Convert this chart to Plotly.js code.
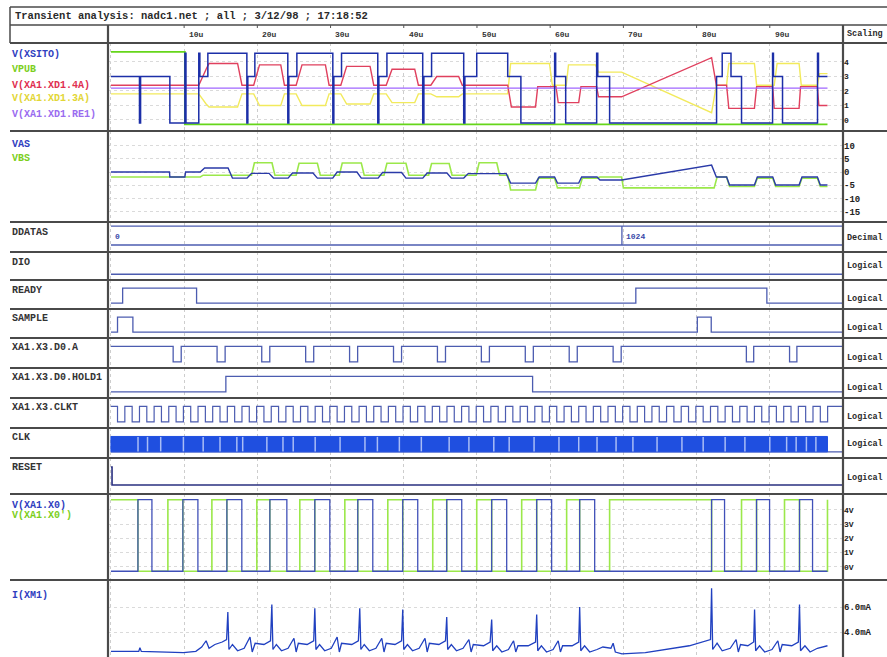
<!DOCTYPE html>
<html><head><meta charset="utf-8">
<script src="https://cdn.plot.ly/plotly-3.0.1.min.js"></script>
<style>html,body{margin:0;padding:0;background:#fff}#chart{width:887px;height:657px}</style>
</head><body><div id="chart"></div>
<script>
// ---------------- DATA (times in microseconds) ----------------
const tickT = [10,20,30,40,50,60,70,80,90];
const tickLabels = ['10u','20u','30u','40u','50u','60u','70u','80u','90u'];

// Panel 1
const xsitoT = [0,3.9,4.05,8.05,10.1,10.25,12.0,12.15,13.24,18.57,18.7,19.66,24.16,24.3,25.4,30.31,30.45,31.5,36.45,36.6,37.7,42.59,42.75,43.8,48.19,48.35,49.97,54.2,56.0,60.61,60.75,62.12,66.35,66.5,68.12,82.73,83.5,84.7,86.14,90.38,90.5,91.74,96.52,96.65,97.88];
const xsitoV = [3.0,-0.2,3.0,-0.2,4.6,-0.2,4.6,3.0,4.6,-0.2,3.0,4.6,-0.2,3.0,4.6,-0.2,3.0,4.6,-0.2,3.0,4.6,-0.2,3.0,4.6,-0.2,3.0,4.6,3.0,-0.2,4.6,3.0,-0.2,4.6,3.0,-0.2,3.0,4.6,3.0,-0.2,4.6,3.0,-0.2,4.6,3.0,3.0];
const vpubT = [0,10.1,97.88];
const vpubV = [4.7,-0.3,-0.3];
const xd4aT = [0,12.0,13.0,13.4,17.3,17.9,19.5,20.3,23.2,23.7,25.3,26.1,29.3,29.8,31.4,32.2,35.4,35.9,37.6,38.4,41.5,42.0,43.7,44.5,47.5,48.0,54.2,54.7,58.0,58.3,60.8,61.1,63.9,64.2,66.35,66.6,69.76,82.05,82.7,84.1,84.4,87.9,88.2,90.4,90.6,94.0,94.2,96.5,96.7,97.88];
const xd4aV = [2.4,2.4,3.5,3.9,3.9,2.4,2.4,3.8,3.8,2.4,2.4,3.8,3.8,2.4,2.4,3.7,3.7,2.4,2.4,3.5,3.5,2.4,2.4,3.0,3.0,2.4,2.4,0.9,0.9,2.3,2.3,1.2,1.2,2.3,2.3,1.6,1.6,4.3,2.4,2.4,0.8,0.8,2.3,2.3,0.8,0.8,2.3,2.3,1.0,1.0];
const xd3aT = [0,12.0,13.0,13.4,17.3,17.9,19.5,20.3,23.2,23.7,25.3,26.1,29.3,29.8,31.4,32.2,35.4,35.9,37.6,38.4,41.5,42.0,43.7,44.5,47.5,48.0,54.2,54.6,59.9,60.3,62.2,62.5,66.2,66.6,69.76,82.05,82.7,84.1,84.4,87.9,88.2,90.6,91.0,94.0,94.3,96.5,96.8,97.88];
const xd3aV = [1.8,1.8,1.1,0.9,0.9,1.8,1.8,1.0,1.0,1.8,1.8,1.0,1.0,1.8,1.8,1.1,1.1,1.8,1.8,1.2,1.2,1.8,1.8,1.6,1.6,1.8,1.8,3.9,3.9,2.4,2.4,3.8,3.8,3.3,3.3,0.5,2.4,2.4,3.9,3.9,2.4,2.4,3.9,3.9,2.4,2.4,3.2,3.2];
const re1T = [0,97.88];
const re1V = [2.2,2.2];

// Panel 2
const vasT = [0,8.0,8.05,10.1,10.2,12.2,12.8,16.0,16.6,18.6,19.2,21.6,22.2,24.2,24.8,27.6,28.2,30.3,30.9,33.6,34.2,36.5,37.1,39.7,40.3,42.6,43.2,45.9,46.5,48.2,48.8,54.0,54.6,58.0,58.5,60.6,61.0,63.9,64.3,66.4,66.8,69.76,82.05,82.7,84.1,84.5,87.9,88.3,90.4,90.8,94.0,94.4,96.5,96.9,97.88];
const vasV = [0,0,-1.9,-1.9,0,0,1.5,1.5,-2.3,-2.3,-0.5,-0.5,-2.3,-2.3,-0.4,-0.4,-2.3,-2.3,0.0,0.0,-2.3,-2.3,-0.2,-0.2,-2.3,-2.3,-0.4,-0.4,-2.3,-2.3,-0.6,-0.6,-4.2,-4.2,-1.9,-1.9,-4.2,-4.2,-1.9,-1.9,-3.0,-3.0,2.6,-1.9,-1.9,-4.9,-4.9,-1.9,-1.9,-4.9,-4.9,-1.9,-1.9,-4.9,-4.9];
const vbsT = [0,12.2,12.6,19.2,19.6,22.0,22.4,25.3,25.7,28.2,28.6,31.2,31.6,34.2,34.6,37.3,37.7,40.3,40.7,43.4,43.8,46.2,46.6,49.9,50.3,52.7,53.1,54.2,54.6,58.0,58.4,60.6,61.0,64.0,64.4,66.4,66.8,69.76,70.0,82.4,82.8,84.1,84.5,87.9,88.3,90.4,90.8,94.0,94.4,96.5,96.9,97.88];
const vbsV = [-1.9,-1.9,-1.2,-1.2,3.5,3.5,-1.2,-1.2,3.3,3.3,-1.2,-1.2,3.4,3.4,-1.2,-1.2,3.3,3.3,-1.2,-1.2,3.2,3.2,-1.2,-1.2,3.5,3.5,-1.2,-1.2,-6.8,-6.8,-2.3,-2.3,-6.0,-6.0,-2.3,-2.3,-1.9,-1.9,-6.0,-6.0,-1.9,-1.9,-5.5,-5.5,-2.3,-2.3,-5.5,-5.5,-2.3,-2.3,-5.5,-5.5];

// Digital
const ddataT = [0,69.8,100];
const ddataVals = ['0','1024'];
const dioT = [0,100];
const dioV = [0,0];
const readyT = [0,1.6,11.7,71.7,89.6,100];
const readyV = [0,1,0,1,0,0];
const sampleT = [0,0.9,3.0,80.1,82.0,100];
const sampleV = [0,1,0,1,0,0];
const d0aT = [0,8.5,9.6,14.5,15.6,20.6,21.7,26.6,27.7,32.6,33.7,38.6,39.7,44.6,45.7,50.6,51.7,56.6,57.7,62.6,63.7,68.6,69.7,86.8,87.8,92.7,93.7,100];
const d0aV = [1,0,1,0,1,0,1,0,1,0,1,0,1,0,1,0,1,0,1,0,1,0,1,0,1,0,1,1];
const holdT = [0,15.7,57.6,100];
const holdV = [0,1,0,0];
const clktT = [0,0.9,1.9,2.9,3.9,4.9,5.9,6.9,7.9,8.9,9.9,10.9,11.9,12.9,13.9,14.9,15.9,16.9,17.9,18.9,19.9,20.9,21.9,22.9,23.9,24.9,25.9,26.9,27.9,28.9,29.9,30.9,31.9,32.9,33.9,34.9,35.9,36.9,37.9,38.9,39.9,40.9,41.9,42.9,43.9,44.9,45.9,46.9,47.9,48.9,49.9,50.9,51.9,52.9,53.9,54.9,55.9,56.9,57.9,58.9,59.9,60.9,61.9,62.9,63.9,64.9,65.9,66.9,67.9,68.9,69.9,70.9,71.9,72.9,73.9,74.9,75.9,76.9,77.9,78.9,79.9,80.9,81.9,82.9,83.9,84.9,85.9,86.9,87.9,88.9,89.9,90.9,91.9,92.9,93.9,94.9,95.9,96.9,97.9,100];
const clktV = [1,0,1,0,1,0,1,0,1,0,1,0,1,0,1,0,1,0,1,0,1,0,1,0,1,0,1,0,1,0,1,0,1,0,1,0,1,0,1,0,1,0,1,0,1,0,1,0,1,0,1,0,1,0,1,0,1,0,1,0,1,0,1,0,1,0,1,0,1,0,1,0,1,0,1,0,1,0,1,0,1,0,1,0,1,0,1,0,1,0,1,0,1,0,1,0,1,0,1,1];
const clkSpan = [0,97.88];
const clkGaps = [3.7,5.0,6.8,9.9,12.6,14.9,17.2,18.0,21.3,23.5,24.9,27.9,31.3,34.7,36.4,39.4,42.4,46.2,48.9,52.3,54.4,57.8,61.2,63.9,66.4,69.0,71.3,74.6,78.0,80.9,83.9,86.6,90.0,92.3,93.6,95.0,96.3];
const resetT = [0,0.15,100];
const resetV = [1,0,0];

// V(XA1.X0) panel
const x0T = [0,3.69,5.6,9.83,11.88,15.84,17.88,21.71,24.03,27.85,29.9,33.72,35.77,39.86,41.91,45.87,47.92,52.01,54.06,58.16,60.2,64.03,66.08,82.05,83.82,88.19,89.97,94.06,95.84,97.88];
const x0V = [-0.3,4.7,-0.3,4.7,-0.3,4.7,-0.3,4.7,-0.3,4.7,-0.3,4.7,-0.3,4.7,-0.3,4.7,-0.3,4.7,-0.3,4.7,-0.3,4.7,-0.3,4.7,-0.3,4.7,-0.3,4.7,-0.3,-0.3];
const x0bT = [0,3.69,7.78,9.83,13.79,15.84,19.93,21.71,25.8,27.85,31.95,33.72,37.82,39.86,43.96,45.87,49.97,52.01,56.11,58.16,62.25,64.03,68.12,82.05,86.14,88.19,92.01,94.06,97.88];
const x0bV = [4.7,-0.3,4.7,-0.3,4.7,-0.3,4.7,-0.3,4.7,-0.3,4.7,-0.3,4.7,-0.3,4.7,-0.3,4.7,-0.3,4.7,-0.3,4.7,-0.3,4.7,-0.3,4.7,-0.3,4.7,-0.3,4.7];

// I(XM1) panel (mA)
const ixmT = [0,3.8,3.96,4.15,9.9,11.6,12.4,13.0,13.4,14.2,15.2,15.8,15.97,16.12,16.6,17.3,18.2,19.0,19.3,19.7,20.9,21.8,21.98,22.13,22.6,23.3,24.2,25.0,25.3,25.6,26.8,27.7,27.85,28.0,28.5,29.2,30.1,30.9,31.2,31.5,32.9,33.8,33.99,34.14,34.6,35.3,36.2,37.0,37.3,37.6,38.8,39.7,39.86,40.0,40.5,41.2,42.1,42.9,43.2,43.5,44.8,45.7,45.87,46.0,46.5,47.2,48.1,48.9,49.2,49.5,50.9,51.8,52.01,52.15,52.7,53.4,54.3,55.0,55.3,55.6,57.0,58.0,58.16,58.3,58.8,59.5,60.4,61.1,61.4,61.7,63.0,63.9,64.03,64.18,64.7,65.4,66.4,67.2,68.3,68.6,68.9,69.8,73.0,76.0,79.0,81.9,82.05,82.2,82.8,83.5,84.6,85.4,85.7,86.0,87.0,87.8,87.92,88.07,88.6,89.3,90.3,91.1,91.4,91.7,93.0,93.9,94.06,94.2,94.8,95.5,96.5,97.88];
const ixmV = [2.45,2.45,2.75,2.45,2.35,2.45,2.8,3.3,2.7,3.0,3.2,3.4,5.6,2.6,3.0,2.5,2.7,3.6,2.4,3.1,3.0,3.3,6.2,2.6,3.0,2.5,2.7,3.5,2.4,3.1,3.0,3.3,5.9,2.6,3.0,2.5,2.7,3.6,2.4,3.1,3.0,3.3,5.9,2.6,3.0,2.5,2.7,3.5,2.4,3.1,3.0,3.3,5.8,2.6,3.0,2.5,2.7,3.5,2.4,3.1,3.0,3.3,5.2,2.6,3.0,2.5,2.7,3.4,2.4,3.0,2.9,3.2,5.0,2.5,2.9,2.4,2.6,3.3,2.4,2.9,2.9,3.2,5.4,2.5,2.9,2.4,2.6,3.3,2.4,2.9,2.9,3.2,6.0,2.5,2.9,2.4,2.6,2.8,2.7,3.1,2.4,2.25,2.35,2.6,2.9,3.4,7.5,2.6,3.1,2.5,2.7,3.4,2.4,3.0,2.9,3.2,5.8,2.5,2.9,2.4,2.6,3.3,2.4,3.0,2.9,3.2,6.2,2.5,2.9,2.4,2.7,2.9];

// ---------------- LAYOUT HELPERS ----------------
const W = 887, H = 657;
const px = x => x / W;
const py = y => 1 - y / H;
const MONO = 'Liberation Mono, DejaVu Sans Mono, monospace';

const rows = [
  {top:43,  bot:131, range:[-0.76,5.31]},
  {top:131, bot:222, range:[-18.9,15.5]},
  {top:223, bot:252, range:[-0.37,1.16]},
  {top:252, bot:280, range:[-0.4,1.55]},
  {top:280, bot:309, range:[-0.4,1.55]},
  {top:309, bot:338, range:[-0.4,1.55]},
  {top:338, bot:368, range:[-0.4,1.55]},
  {top:368, bot:398, range:[-0.4,1.55]},
  {top:398, bot:428, range:[-0.4,1.55]},
  {top:428, bot:458, range:[-0.4,1.55]},
  {top:458, bot:494, range:[-0.5,1.5]},
  {top:494, bot:580, range:[-0.91,5.1]},
  {top:580, bot:657, range:[2.0,8.16]}
];
const scaleTicks = {
  0: {vals:[0,1,2,3,4], text:['0','1','2','3','4'], size:8},
  1: {vals:[10,5,0,-5,-10,-15], text:['10','5','0','-5','-10','-15'], size:9},
  11:{vals:[0,1,2,3,4], text:['0V','1V','2V','3V','4V'], size:8},
  12:{vals:[4,6], text:['4.0mA','6.0mA'], size:9}
};

const layout = {
  width: W, height: H,
  margin: {l:0, r:0, t:0, b:0},
  paper_bgcolor: '#ffffff',
  plot_bgcolor: '#ffffff',
  showlegend: false,
  hovermode: false,
  xaxis: {domain:[px(108), px(843)], range:[-0.4,100], showgrid:true, dtick:10, tick0:0,
          gridcolor:'#cdcdcd', griddash:'dot', gridwidth:1, showticklabels:false,
          ticks:'', zeroline:false, showline:false, anchor:'y', fixedrange:true},
  shapes: [], annotations: []
};
rows.forEach((r, i) => {
  const name = i === 0 ? 'yaxis' : 'yaxis' + (i + 1);
  const ax = {domain:[py(r.bot), py(r.top)], range:r.range, anchor:'x', zeroline:false,
              showline:false, ticks:'', showgrid:false, showticklabels:false, fixedrange:true};
  const st = scaleTicks[i];
  if (st) {
    Object.assign(ax, {side:'right', showticklabels:true, tickmode:'array', tickvals:st.vals,
      ticktext:st.text, tickfont:{family:MONO, size:st.size, color:'#222', weight:'bold'},
      showgrid:true, gridcolor:'#dadada', griddash:'dot', gridwidth:1});
  }
  layout[name] = ax;
});

const line = (x0,y0,x1,y1,w,c) => ({type:'line', xref:'paper', yref:'paper',
  x0:px(x0), y0:py(y0), x1:px(x1), y1:py(y1), line:{color:c||'#4a4a4a', width:w||2}});
layout.shapes.push(line(10,7,887,7,1.5));
layout.shapes.push(line(10,25,887,25,1.5));
layout.shapes.push(line(10,7,10,43,1.5));
[43,131,222,252,280,309,338,368,398,428,458,494,580].forEach(y => layout.shapes.push(line(10,y,887,y,2.2)));
layout.shapes.push(line(108,25,108,657,2.2));
layout.shapes.push(line(843,25,843,657,2.2));
tickT.forEach(t => layout.shapes.push({type:'line', xref:'x', yref:'paper', x0:t, x1:t,
  y0:py(25), y1:py(28), line:{color:'#555', width:1}}));

const ann = (x, y, text, color, size, anchor) => layout.annotations.push({
  xref:'paper', yref:'paper', x:px(x), y:py(y), text:text, showarrow:false,
  xanchor:anchor||'left', yanchor:'middle',
  font:{family:MONO, size:size||10, color:color||'#2a2a2a', weight:'bold'}});
ann(13, 16, 'Transient analysis: nadc1.net ; all ; 3/12/98 ; 17:18:52', '#2a2a2a', 10.5);
tickT.forEach((t, i) => layout.annotations.push({xref:'x', yref:'paper', x:t + 0.4, y:py(34),
  text:tickLabels[i], showarrow:false, xanchor:'left', yanchor:'middle',
  font:{family:MONO, size:8, color:'#333', weight:'bold'}}));
ann(845, 34, 'Scaling', '#2a2a2a', 8.5);

const COL = {blue:'#3040c0', green:'#7ccf1c', red:'#e03050', yellow:'#e2d636', violet:'#9a6cf0', gray:'#333333'};
ann(10, 55, 'V(XSITO)', COL.blue);
ann(10, 69, 'VPUB', COL.green);
ann(10, 85, 'V(XA1.XD1.4A)', COL.red);
ann(10, 99, 'V(XA1.XD1.3A)', COL.yellow);
ann(10, 114, 'V(XA1.XD1.RE1)', COL.violet);
ann(10, 144, 'VAS', COL.blue);
ann(10, 158, 'VBS', COL.green);
const digLabels = ['DDATAS','DIO','READY','SAMPLE','XA1.X3.D0.A','XA1.X3.D0.HOLD1','XA1.X3.CLKT','CLK','RESET'];
const digLabelY = [232,262,290,318,347,377,407,437,467];
digLabels.forEach((t, i) => ann(10, digLabelY[i], t, COL.gray));
const rightY = [238,266,299,328,358,388,417,444,478];
rightY.forEach((y, i) => ann(845, y, i === 0 ? 'Decimal' : 'Logical', '#2a2a2a', 8.5));
ann(10, 505, 'V(XA1.X0)', COL.blue);
ann(10, 515, "V(XA1.X0')", COL.green);
ann(10, 595, 'I(XM1)', COL.blue);

// ---------------- TRACES ----------------
const traces = [];
const tr = (x, y, yaxis, color, width, shape) => traces.push({type:'scatter', mode:'lines',
  x:x, y:y, yaxis:yaxis, xaxis:'x', line:{color:color, width:width, shape:shape||'linear'}, hoverinfo:'skip'});

tr(vpubT, vpubV, 'y', '#66d61a', 1.8, 'hv');
tr(xd3aT, xd3aV, 'y', '#f2ea5c', 1.4);
tr(xd4aT, xd4aV, 'y', '#e0405e', 1.4);
tr(re1T, re1V, 'y', '#a066ff', 1.2);
tr(xsitoT, xsitoV, 'y', '#1c2fa8', 1.5, 'hv');
tr(vbsT, vbsV, 'y2', '#9be84a', 1.6);
tr(vasT, vasV, 'y2', '#2a3aa8', 1.4);

const busX = [ddataT[0], ddataT[ddataT.length-1], null, ddataT[0], ddataT[ddataT.length-1]];
const busY = [1, 1, null, 0, 0];
for (let i = 1; i < ddataT.length - 1; i++) { busX.push(null, ddataT[i], ddataT[i]); busY.push(null, 0, 1); }
tr(busX, busY, 'y3', '#4c5cb0', 1.3);
ddataVals.forEach((v, i) => layout.annotations.push({xref:'x', yref:'y3', x:ddataT[i] + 0.3, y:0.45,
  text:v, showarrow:false, xanchor:'left', yanchor:'middle',
  font:{family:MONO, size:8, color:'#3a4aa8', weight:'bold'}}));

const DIG = '#4c5cb0';
tr(dioT, dioV, 'y4', DIG, 1.3, 'hv');
tr(readyT, readyV, 'y5', DIG, 1.3, 'hv');
tr(sampleT, sampleV, 'y6', DIG, 1.3, 'hv');
tr(d0aT, d0aV, 'y7', DIG, 1.3, 'hv');
tr(holdT, holdV, 'y8', DIG, 1.3, 'hv');
tr(clktT, clktV, 'y9', DIG, 1.2, 'hv');
tr([clkSpan[0], 100], [0, 0], 'y10', DIG, 1.3);
traces.push({type:'scatter', mode:'lines', xaxis:'x', yaxis:'y10',
  x:[clkSpan[0], clkSpan[1], clkSpan[1], clkSpan[0], clkSpan[0]], y:[0,0,1,1,0],
  fill:'toself', fillcolor:'#1f4fe0', line:{color:'#1f4fe0', width:1}, hoverinfo:'skip'});
const gx = [], gy = [];
clkGaps.forEach(g => { gx.push(g, g, null); gy.push(0.03, 0.97, null); });
tr(gx, gy, 'y10', '#a9bdf6', 1.5);
tr(resetT, resetV, 'y11', '#2a3080', 1.6, 'hv');

tr(x0bT, x0bV, 'y12', '#9be84a', 1.6, 'hv');
tr(x0T, x0V, 'y12', '#4050b8', 1.3, 'hv');
tr(ixmT, ixmV, 'y13', '#2040c0', 1.3);

Plotly.newPlot('chart', traces, layout, {displayModeBar:false, staticPlot:true});
</script></body></html>
